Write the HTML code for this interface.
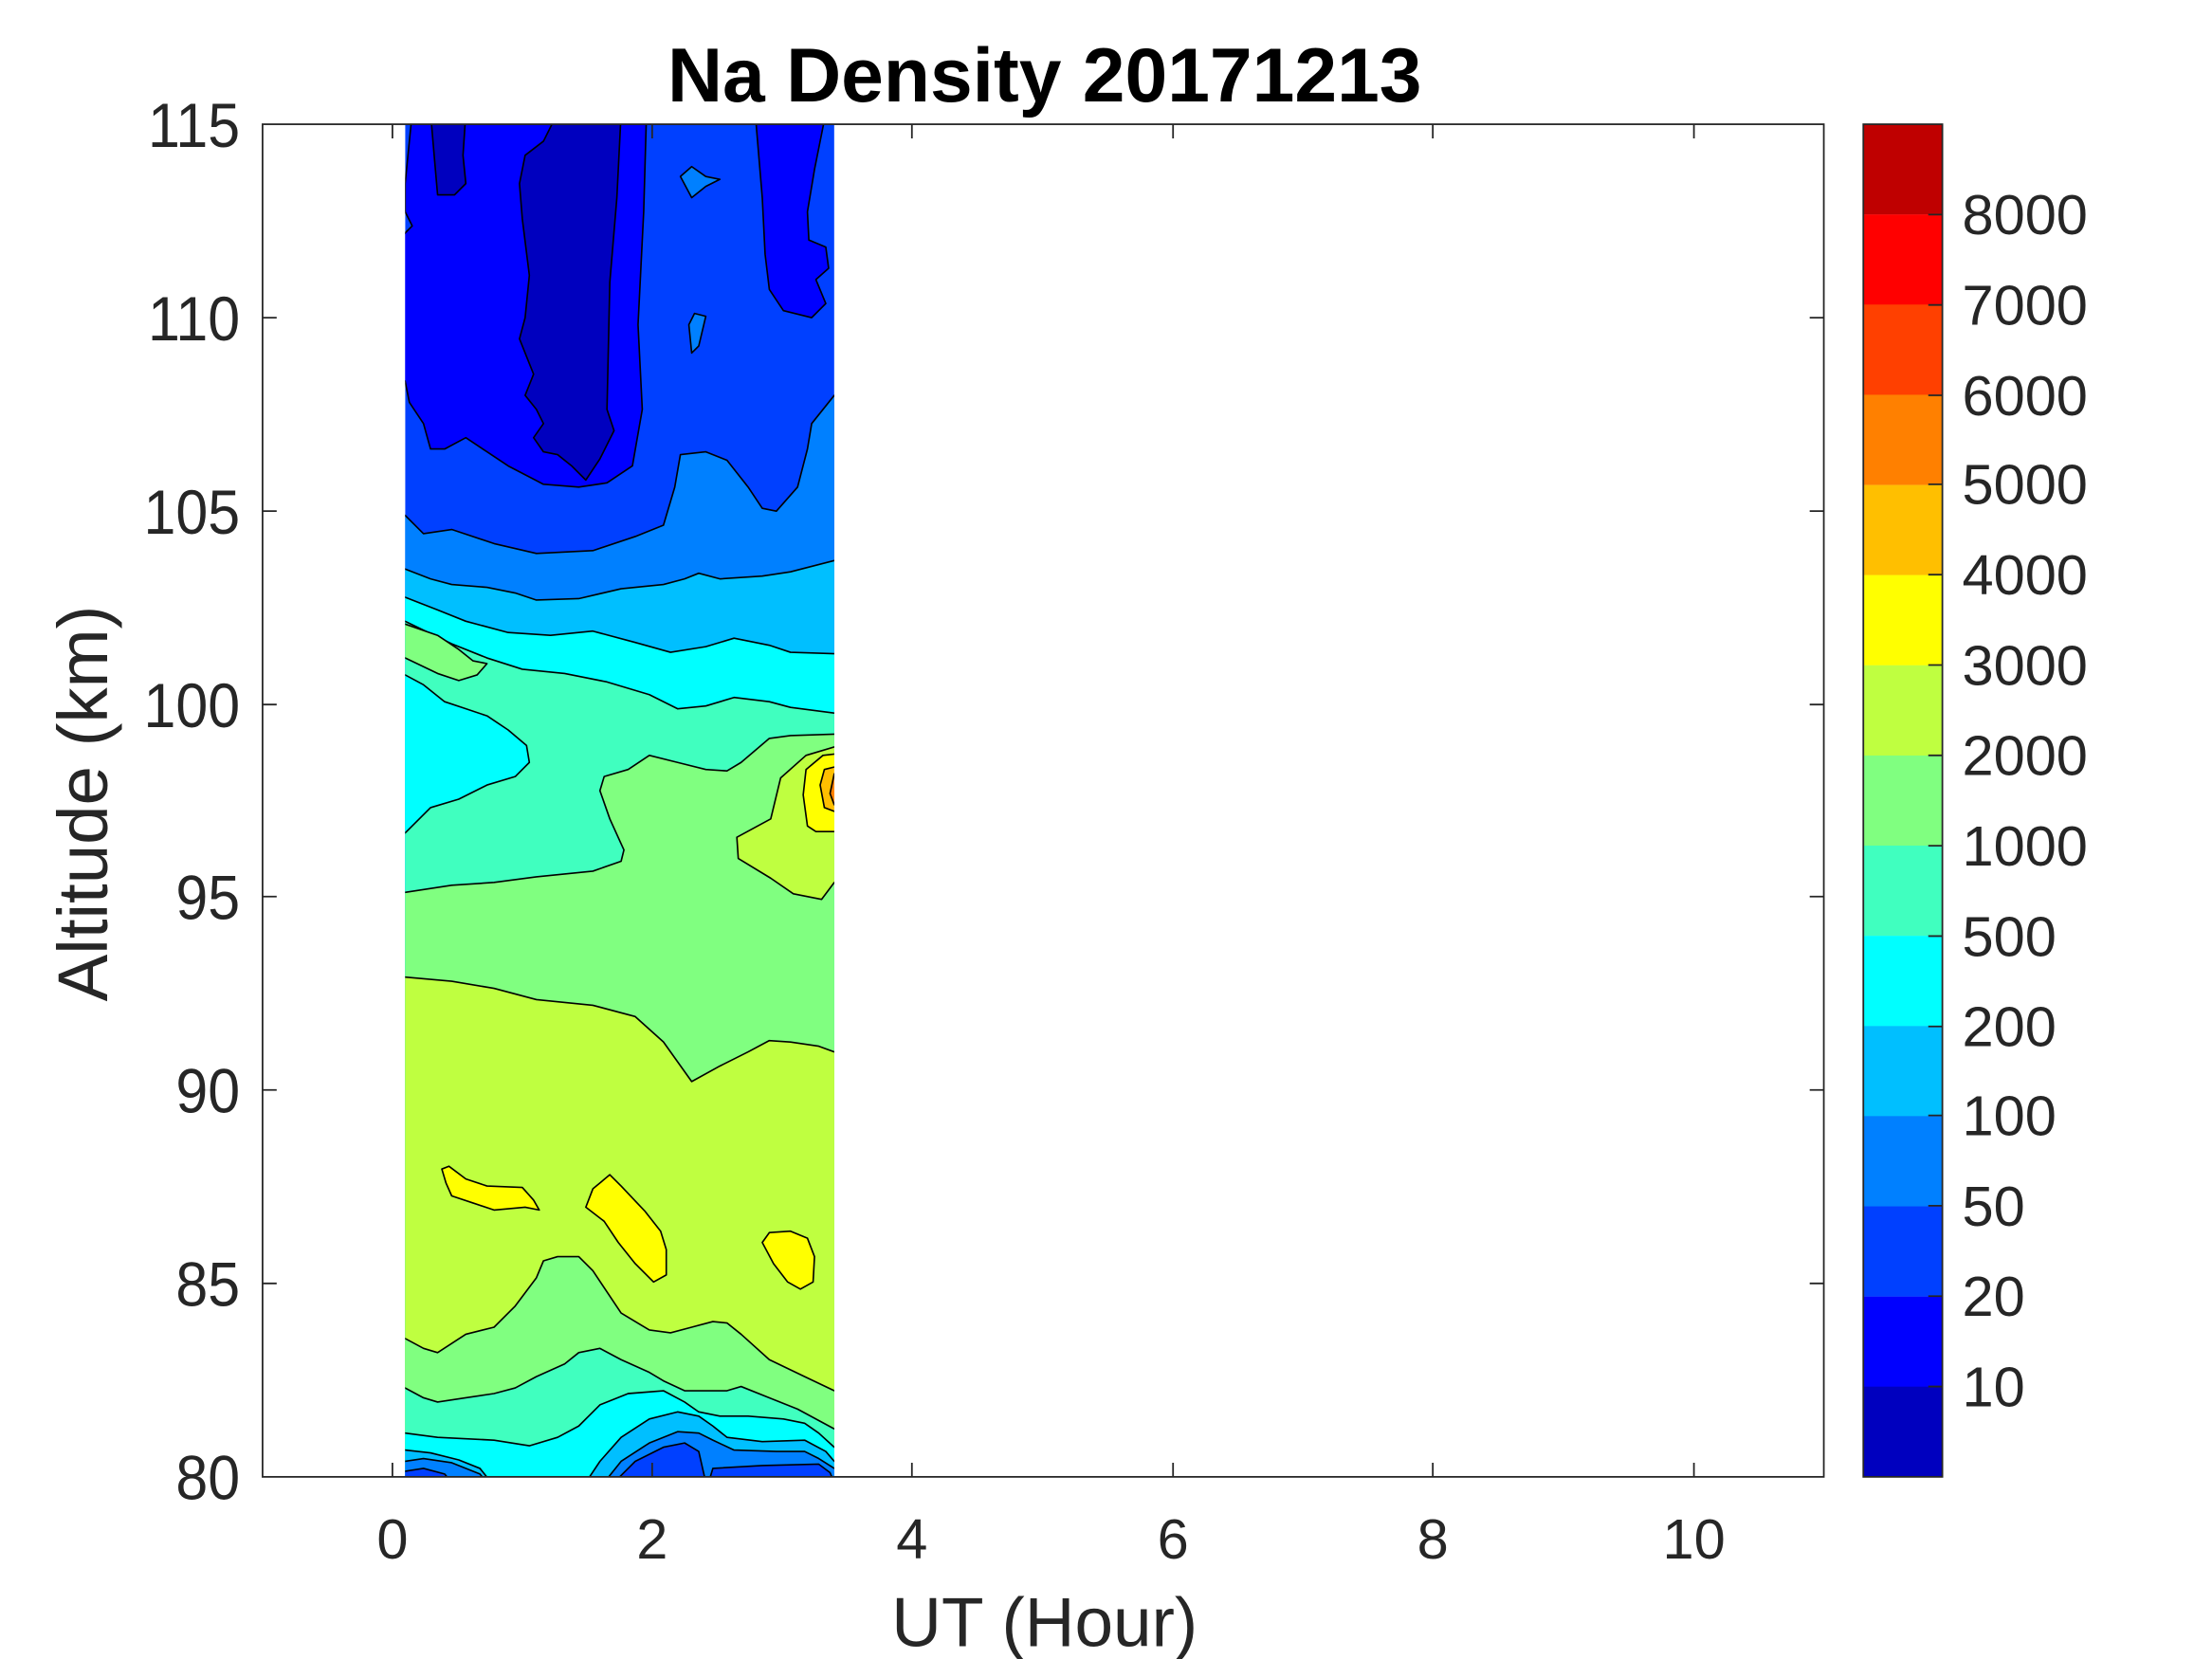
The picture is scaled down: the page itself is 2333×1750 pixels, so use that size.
<!DOCTYPE html>
<html><head><meta charset="utf-8"><style>
html,body{margin:0;padding:0;background:#fff;}
svg{display:block;}
text{font-family:"Liberation Sans",Arial,sans-serif;fill:#262626;}
</style></head><body>
<svg width="2333" height="1750" viewBox="0 0 1567 1175" preserveAspectRatio="none" xmlns="http://www.w3.org/2000/svg">
<rect width="1567" height="1175" fill="#fff"/>
<defs><clipPath id="c"><rect x="287" y="88" width="304" height="958"/></clipPath></defs>
<g clip-path="url(#c)" stroke="#000" stroke-width="1.1" stroke-linejoin="round">
<rect x="287" y="88" width="304" height="958" fill="#0040FF" stroke="none"/>
<path fill="#0000FF" d="M292,80 L458,80 L456,150 L452,230 L455,290 L448,330 L430,342 L410,345 L385,343 L360,330 L345,320 L330,310 L315,318 L305,318 L300,300 L290,285 L287,270 L282,270 L282,170 L292,160 L287,150 L287,130 Z"/>
<path fill="#0000FF" d="M535,80 L585,80 L577,120 L572,150 L573,170 L585,175 L587,190 L578,198 L585,215 L575,225 L555,220 L545,205 L542,180 L540,140 Z"/>
<path fill="#0000BF" d="M395,80 L440,80 L437,140 L432,200 L430,290 L435,305 L425,325 L415,340 L405,330 L395,322 L385,320 L378,310 L385,300 L380,290 L372,280 L378,265 L368,240 L372,225 L375,195 L370,155 L368,130 L372,110 L385,100 Z"/>
<path fill="#0000BF" d="M305,80 L330,80 L328,110 L330,130 L322,138 L310,138 L308,115 Z"/>
<path fill="#0080FF" d="M482,125 L490,118 L500,125 L510,127 L500,132 L490,140 Z"/>
<path fill="#0080FF" d="M488,230 L492,222 L500,224 L495,245 L490,250 Z"/>
<path fill="#0080FF" d="M282,365 L287,365 L300,378 L320,375 L350,385 L380,392 L420,390 L450,380 L470,372 L478,345 L482,322 L500,320 L515,326 L530,345 L540,360 L550,362 L565,345 L572,318 L575,300 L591,280 L600,280 L600,1100 L282,1100 Z"/>
<path fill="#00BFFF" d="M282,403 L287,403 L305,410 L320,414 L345,416 L365,420 L380,425 L410,424 L440,417 L470,414 L485,410 L495,406 L510,410 L540,408 L560,405 L591,397 L600,397 L600,1100 L282,1100 Z"/>
<path fill="#00FFFF" d="M282,423 L287,423 L310,432 L330,440 L360,448 L390,450 L420,447 L450,455 L475,462 L500,458 L520,452 L545,457 L560,462 L591,463 L600,463 L600,1100 L282,1100 Z"/>
<path fill="#40FFBF" d="M282,440 L287,440 L320,456 L345,466 L370,474 L400,477 L430,483 L460,492 L480,502 L500,500 L520,494 L545,497 L560,501 L591,505 L600,505 L600,1100 L282,1100 Z"/>
<path fill="#80FF80" d="M282,632 L287,632 L320,627 L350,625 L380,621 L420,617 L440,610 L442,602 L432,580 L425,560 L428,550 L445,545 L460,535 L480,540 L500,545 L515,546 L525,540 L545,523 L560,521 L591,520 L600,520 L600,1100 L282,1100 Z"/>
<path fill="#BFFF40" d="M282,692 L287,692 L320,695 L350,700 L380,708 L420,712 L450,720 L470,738 L480,752 L490,766 L510,755 L530,745 L545,737 L560,738 L580,741 L591,745 L600,745 L600,1100 L282,1100 Z"/>
<path fill="#80FF80" d="M282,948 L287,948 L300,955 L310,958 L330,945 L350,940 L365,925 L380,905 L385,893 L395,890 L410,890 L420,900 L440,930 L460,942 L475,944 L490,940 L505,936 L515,937 L525,945 L545,963 L570,975 L591,985 L600,985 L600,1100 L282,1100 Z"/>
<path fill="#40FFBF" d="M282,983 L287,983 L300,990 L310,993 L330,990 L350,987 L365,983 L380,975 L400,966 L410,958 L425,955 L440,963 L460,972 L470,978 L485,985 L500,985 L515,985 L525,982 L545,990 L565,998 L591,1012 L600,1012 L600,1100 L282,1100 Z"/>
<path fill="#00FFFF" d="M282,1015 L287,1015 L310,1018 L350,1020 L375,1024 L395,1018 L410,1010 L425,995 L445,987 L470,985 L485,993 L495,1000 L510,1003 L530,1003 L555,1005 L570,1008 L580,1015 L591,1025 L600,1025 L600,1100 L282,1100 Z"/>
<path fill="#00BFFF" d="M282,1027 L287,1027 L305,1029 L325,1034 L340,1040 L348,1050 L415,1050 L425,1035 L440,1018 L460,1005 L480,1000 L495,1003 L505,1010 L515,1018 L540,1021 L570,1020 L585,1028 L591,1035 L600,1035 L600,1100 L282,1100 Z"/>
<path fill="#0080FF" d="M282,1035 L287,1035 L300,1033 L320,1036 L340,1044 L345,1050 L428,1050 L440,1035 L460,1022 L480,1014 L495,1015 L505,1020 L520,1027 L550,1028 L570,1028 L580,1033 L591,1040 L600,1040 L600,1100 L282,1100 Z"/>
<path fill="#0040FF" d="M282,1042 L287,1042 L300,1040 L315,1044 L320,1050 L282,1050 Z"/>
<path fill="#0040FF" d="M435,1050 L450,1035 L470,1025 L485,1022 L495,1028 L500,1050 Z"/>
<path fill="#0040FF" d="M502,1050 L505,1040 L540,1038 L580,1037 L588,1043 L591,1050 Z"/>
<path fill="#80FF80" d="M282,442 L287,442 L310,450 L325,460 L335,468 L345,470 L338,478 L325,482 L310,477 L287,466 L282,466 Z"/>
<path fill="#00FFFF" d="M282,478 L287,478 L300,485 L315,497 L330,502 L345,507 L360,517 L373,528 L375,540 L365,550 L345,556 L325,566 L305,572 L287,590 L282,590 Z"/>
<path fill="#BFFF40" d="M600,529 L591,529 L571,535 L553,551 L546,580 L522,593 L523,608 L546,622 L562,633 L582,637 L591,625 L600,625 Z"/>
<path fill="#FFFF00" d="M600,533 L583,535 L571,545 L569,563 L572,585 L578,589 L600,589 Z"/>
<path fill="#FFBF00" d="M600,541 L584,545 L581,556 L584,572 L600,578 Z"/>
<path fill="#FF8000" d="M600,548 L591,548 L588,562 L591,570 L600,570 Z"/>
<path fill="#FFFF00" d="M313,828 L318,826 L330,835 L345,840 L370,841 L378,850 L382,857 L372,855 L350,857 L335,852 L320,847 L316,838 Z"/>
<path fill="#FFFF00" d="M420,842 L432,832 L440,840 L457,858 L468,872 L472,885 L472,903 L463,908 L450,895 L438,880 L428,865 L415,855 Z"/>
<path fill="#FFFF00" d="M540,880 L545,873 L560,872 L572,877 L577,890 L576,908 L567,913 L558,908 L548,895 Z"/>
</g>
<g stroke="#262626" stroke-width="1.2" fill="none">
<rect x="186" y="88" width="1106" height="958"/>
<path d="M186,225h10M186,362h10M186,499h10M186,635h10M186,772h10M186,909h10"/>
<path d="M1292,225h-10M1292,362h-10M1292,499h-10M1292,635h-10M1292,772h-10M1292,909h-10"/>
<path d="M278,1046v-10M462,1046v-10M646,1046v-10M831,1046v-10M1015,1046v-10M1200,1046v-10"/>
<path d="M278,88v10M462,88v10M646,88v10M831,88v10M1015,88v10M1200,88v10"/>
</g>
<g font-size="44" text-anchor="end" transform="scale(0.93,1)">
<text x="182.8" y="104">115</text><text x="182.8" y="241">110</text><text x="182.8" y="378">105</text>
<text x="182.8" y="515">100</text><text x="182.8" y="651">95</text><text x="182.8" y="788">90</text>
<text x="182.8" y="925">85</text><text x="182.8" y="1062">80</text>
</g>
<g font-size="40" text-anchor="middle">
<text x="278" y="1104">0</text><text x="462" y="1104">2</text><text x="646" y="1104">4</text>
<text x="831" y="1104">6</text><text x="1015" y="1104">8</text><text x="1200" y="1104">10</text>
</g>
<text x="740" y="1166" font-size="49" text-anchor="middle">UT (Hour)</text>
<text transform="translate(76,569) rotate(-90)" font-size="50" text-anchor="middle">Altitude (km)</text>
<text x="740" y="72" font-size="54" font-weight="bold" text-anchor="middle" style="fill:#000">Na Density 20171213</text>
<g>
<rect x="1320" y="88.0" width="56" height="64" fill="#BF0000"/>
<rect x="1320" y="151.9" width="56" height="64" fill="#FF0000"/>
<rect x="1320" y="215.7" width="56" height="64" fill="#FF4000"/>
<rect x="1320" y="279.6" width="56" height="64" fill="#FF8000"/>
<rect x="1320" y="343.5" width="56" height="64" fill="#FFBF00"/>
<rect x="1320" y="407.3" width="56" height="64" fill="#FFFF00"/>
<rect x="1320" y="471.2" width="56" height="64" fill="#BFFF40"/>
<rect x="1320" y="535.1" width="56" height="64" fill="#80FF80"/>
<rect x="1320" y="598.9" width="56" height="64" fill="#40FFBF"/>
<rect x="1320" y="662.8" width="56" height="64" fill="#00FFFF"/>
<rect x="1320" y="726.7" width="56" height="64" fill="#00BFFF"/>
<rect x="1320" y="790.5" width="56" height="64" fill="#0080FF"/>
<rect x="1320" y="854.4" width="56" height="64" fill="#0040FF"/>
<rect x="1320" y="918.3" width="56" height="64" fill="#0000FF"/>
<rect x="1320" y="982.1" width="56" height="63.9" fill="#0000BF"/>
<rect x="1320" y="88" width="56" height="958" fill="none" stroke="#262626" stroke-width="1.2"/>
<path stroke="#262626" stroke-width="1.2" d="M1376,152h-10M1376,216h-10M1376,280h-10M1376,343h-10M1376,407h-10M1376,471h-10M1376,535h-10M1376,599h-10M1376,663h-10M1376,727h-10M1376,790h-10M1376,854h-10M1376,918h-10M1376,982h-10"/>
</g>
<g font-size="40" text-anchor="start">
<text x="1390" y="166">8000</text><text x="1390" y="230">7000</text><text x="1390" y="294">6000</text>
<text x="1390" y="357">5000</text><text x="1390" y="421">4000</text><text x="1390" y="485">3000</text>
<text x="1390" y="549">2000</text><text x="1390" y="613">1000</text><text x="1390" y="677">500</text>
<text x="1390" y="741">200</text><text x="1390" y="804">100</text><text x="1390" y="868">50</text>
<text x="1390" y="932">20</text><text x="1390" y="996">10</text>
</g>
</svg>
</body></html>
